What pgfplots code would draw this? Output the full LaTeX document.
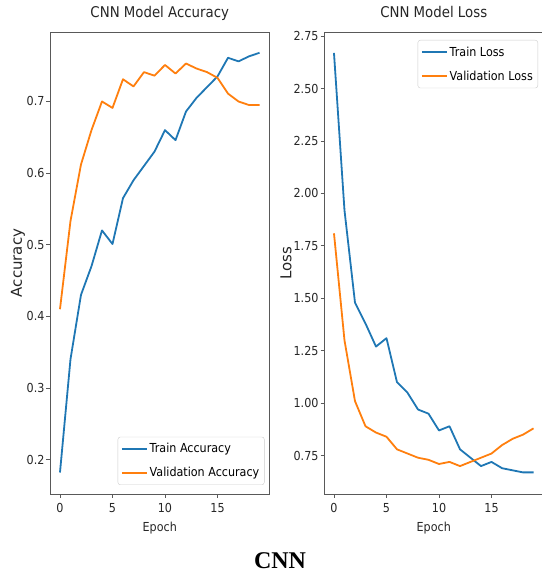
\documentclass[border=0pt]{standalone}
\usepackage{fontspec}
\setmainfont{DejaVu Sans}[FakeStretch=0.9]
\newfontfamily\ylabfont{DejaVu Sans}
\newfontfamily\capfont{Liberation Serif}
\usepackage{pgfplots}
\pgfplotsset{compat=1.18}
\definecolor{mplblue}{HTML}{1F77B4}
\definecolor{mplorange}{HTML}{FF7F0E}

\pgfplotsset{
  cnnstyle/.style={
    scale only axis, width=219.5pt, height=462pt,
    xmin=-0.95, xmax=19.95,
    xtick={0,5,10,15},
    axis line style={black!65, line width=0.9pt},
    tick style={black!65, line width=0.9pt},
    tick align=outside, major tick length=3.5pt,
    xtick pos=bottom, ytick pos=left,
    /pgf/number format/assume math mode=true,
    ticklabel style={font=\fontsize{12.4}{14}\selectfont, text=black!85},
    xticklabel style={yshift=-2pt},
    yticklabel style={xshift=1.5pt},
    xlabel style={font=\fontsize{12.4}{14}\selectfont, text=black!85,
      at={(0.5,0)}, anchor=base, yshift=-37pt},
    ylabel style={font=\ylabfont\fontsize{15}{17}\selectfont, text=black!85},
    title style={font=\fontsize{14.8}{17}\selectfont, text=black!85,
      at={(0.5,1)}, anchor=base, yshift=8pt},
    legend style={draw=black!20, rounded corners=2.5pt, fill=white, fill opacity=0.8,
      text opacity=1, draw opacity=1, font=\fontsize{12.4}{14}\selectfont,
      inner xsep=3pt, inner ysep=4.5pt, row sep=9pt, cells={anchor=west}},
    legend image code/.code={\draw[##1] (0pt,0pt) -- (25pt,0pt);},
    every axis plot/.append style={line width=1.8pt, line join=round, mark=none},
  }
}

\begin{document}
\begin{tikzpicture}
\useasboundingbox (0,0) rectangle (541pt,573pt);

% accuracy
\begin{axis}[cnnstyle,
  at={(50pt,79pt)}, anchor=south west,
  ymin=0.152, ymax=0.797,
  ytick={0.2,0.3,0.4,0.5,0.6,0.7},
  yticklabel style={/pgf/number format/.cd, fixed, fixed zerofill, precision=1},
  title={CNN Model Accuracy},
  xlabel={Epoch}, ylabel={Accuracy},
  ylabel style={at={([xshift=-32pt]axis description cs:0,0.5)}, anchor=center},
  legend style={at={(1,0)}, anchor=south east, xshift=-5pt, yshift=9pt},
]
\addplot[mplblue] coordinates {
  (0,0.182) (1,0.340) (2,0.430) (3,0.470) (4,0.520) (5,0.501) (6,0.565) (7,0.590)
  (8,0.610) (9,0.630) (10,0.660) (11,0.646) (12,0.686) (13,0.705) (14,0.720)
  (15,0.735) (16,0.761) (17,0.756) (18,0.763) (19,0.768)
};
\addplot[mplorange] coordinates {
  (0,0.410) (1,0.533) (2,0.612) (3,0.660) (4,0.700) (5,0.691) (6,0.731) (7,0.721)
  (8,0.741) (9,0.736) (10,0.751) (11,0.739) (12,0.753) (13,0.746) (14,0.741)
  (15,0.733) (16,0.711) (17,0.700) (18,0.695) (19,0.695)
};
\legend{Train Accuracy, Validation Accuracy}
\end{axis}

% loss
\begin{axis}[cnnstyle,
  at={(324pt,79pt)}, anchor=south west,
  ymin=0.567, ymax=2.77,
  ytick={0.75,1.00,1.25,1.50,1.75,2.00,2.25,2.50,2.75},
  yticklabel style={/pgf/number format/.cd, fixed, fixed zerofill, precision=2},
  title={CNN Model Loss},
  xlabel={Epoch}, ylabel={Loss},
  ylabel style={at={([xshift=-38pt]axis description cs:0,0.5)}, anchor=center},
  legend style={at={(1,1)}, anchor=north east, xshift=-5.5pt, yshift=-8pt},
]
\addplot[mplblue] coordinates {
  (0,2.67) (1,1.92) (2,1.48) (3,1.38) (4,1.27) (5,1.31) (6,1.10) (7,1.05)
  (8,0.97) (9,0.95) (10,0.87) (11,0.89) (12,0.78) (13,0.74) (14,0.70)
  (15,0.72) (16,0.69) (17,0.68) (18,0.67) (19,0.67)
};
\addplot[mplorange] coordinates {
  (0,1.81) (1,1.30) (2,1.01) (3,0.89) (4,0.86) (5,0.84) (6,0.78) (7,0.76)
  (8,0.74) (9,0.73) (10,0.71) (11,0.72) (12,0.70) (13,0.72) (14,0.74)
  (15,0.76) (16,0.80) (17,0.83) (18,0.85) (19,0.88)
};
\legend{Train Loss, Validation Loss}
\end{axis}

\node[font=\capfont\bfseries\fontsize{24}{26}\selectfont, anchor=base] at (280pt,5pt) {CNN};
\end{tikzpicture}
\end{document}
